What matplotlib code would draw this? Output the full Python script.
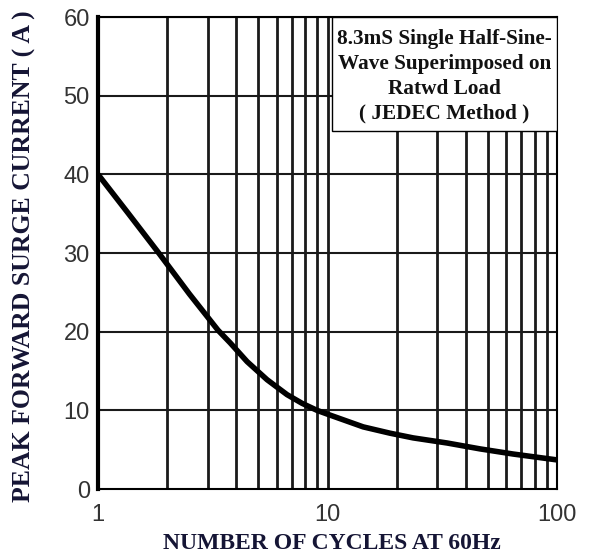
import matplotlib
matplotlib.use("Agg")
import matplotlib.pyplot as plt
from matplotlib.patches import Rectangle

# Data
cycles = [1, 1.35, 1.85, 2.5, 3.33, 3.76, 4.46, 5.45, 6.66, 7.74, 9.0, 10.25, 14.3, 18.7, 23.6, 33.2, 46.2, 64.3, 100]
current = [40, 35.1, 29.9, 24.8, 20.2, 18.6, 16.2, 13.9, 12.0, 10.9, 10.0, 9.4, 7.9, 7.1, 6.5, 5.85, 5.1, 4.45, 3.7]
xticks = [1, 10, 100]
xticklabels = ["1", "10", "100"]
yticks = [0, 10, 20, 30, 40, 50, 60]
yticklabels = ["0", "10", "20", "30", "40", "50", "60"]
box_lines = ["8.3mS Single Half-Sine-", "Wave Superimposed on", "Ratwd Load", "( JEDEC Method )"]

fig = plt.figure(figsize=(5.91, 5.56), dpi=100)
ax = fig.add_axes([0.166, 0.1205, 0.7765, 0.8485])
ax.set_xscale("log")
ax.set_xlim(1, 100)
ax.set_ylim(0, 60)

minor = [m * d for d in (1, 10) for m in range(2, 10)]
for xv in minor + [10]:
    ax.axvline(xv, color="#1a1a1a", lw=2.0, zorder=1)
for yv in yticks[1:]:
    ax.axhline(yv, color="#1a1a1a", lw=1.5, zorder=1)

ax.plot(cycles, current, color="black", lw=4, zorder=5, solid_capstyle="butt",
        solid_joinstyle="round")

ax.spines["left"].set_linewidth(3)
for s in ["bottom", "top", "right"]:
    ax.spines[s].set_linewidth(1.5)

ax.set_xticks(xticks)
ax.set_xticklabels(xticklabels)
ax.xaxis.set_minor_locator(matplotlib.ticker.NullLocator())
ax.set_yticks(yticks)
ax.set_yticklabels(yticklabels)
ax.tick_params(axis="both", length=0, labelsize=17, pad=6)
for lab in ax.get_xticklabels() + ax.get_yticklabels():
    lab.set_family("Liberation Sans")
    lab.set_color("#333333")
ax.tick_params(axis="x", pad=11)

ax.add_patch(Rectangle((0.51, 0.758), 0.49, 0.242, transform=ax.transAxes,
                       facecolor="white", edgecolor="black", lw=1.0, zorder=6))
ax.text(0.755, 0.875, "\n".join(box_lines), transform=ax.transAxes, ha="center", va="center",
        family="Liberation Serif", fontweight="bold", fontsize=15.3, linespacing=1.33,
        color="#111111", zorder=7)

fig.text(0.042, 0.54, "PEAK FORWARD SURGE CURRENT ( A )", rotation=90, ha="center", va="center",
         family="Liberation Serif", fontweight="bold", fontsize=18.5, color="#151535")
fig.text(0.562, 0.022, "NUMBER OF CYCLES AT 60Hz", ha="center", va="center",
         family="Liberation Serif", fontweight="bold", fontsize=17, color="#151535")

fig.savefig("out.png", dpi=100)
